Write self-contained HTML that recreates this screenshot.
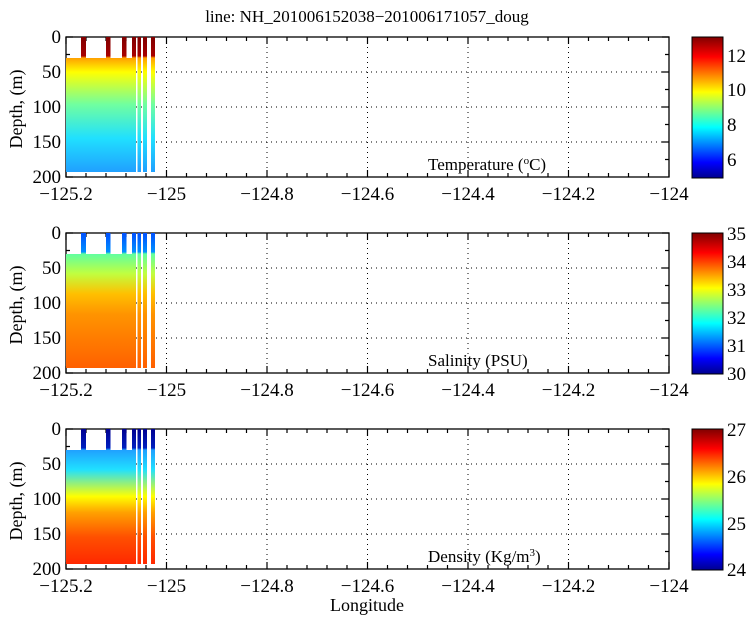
<!DOCTYPE html>
<html><head><style>body{margin:0;background:#fff}svg{display:block}text{font-family:"Liberation Serif",serif;fill:#000}</style></head><body>
<svg width="750" height="618" viewBox="0 0 750 618" xmlns="http://www.w3.org/2000/svg">
<defs>
<linearGradient id="jet" x1="0" y1="1" x2="0" y2="0">
<stop offset="0" stop-color="#00008f"/><stop offset="0.11" stop-color="#0000ff"/><stop offset="0.36" stop-color="#00ffff"/><stop offset="0.61" stop-color="#ffff00"/><stop offset="0.86" stop-color="#ff0000"/><stop offset="1" stop-color="#800000"/>
</linearGradient>
<linearGradient id="gT" gradientUnits="userSpaceOnUse" x1="0" y1="37" x2="0" y2="172">
<stop offset="0" stop-color="#800000"/><stop offset="0.14" stop-color="#a80000"/><stop offset="0.155" stop-color="#ffa000"/><stop offset="0.26" stop-color="#ffff00"/><stop offset="0.5" stop-color="#70ffa0"/><stop offset="0.75" stop-color="#20e0ff"/><stop offset="1" stop-color="#20a0ff"/>
</linearGradient>
<linearGradient id="gS" gradientUnits="userSpaceOnUse" x1="0" y1="233" x2="0" y2="368">
<stop offset="0" stop-color="#0050ff"/><stop offset="0.14" stop-color="#0090ff"/><stop offset="0.155" stop-color="#60ffa0"/><stop offset="0.3" stop-color="#c0ff40"/><stop offset="0.45" stop-color="#ffc000"/><stop offset="0.6" stop-color="#ff9400"/><stop offset="1" stop-color="#ff6000"/>
</linearGradient>
<linearGradient id="gD" gradientUnits="userSpaceOnUse" x1="0" y1="429" x2="0" y2="564">
<stop offset="0" stop-color="#000090"/><stop offset="0.14" stop-color="#0020c0"/><stop offset="0.155" stop-color="#20a0ff"/><stop offset="0.3" stop-color="#20e0ff"/><stop offset="0.5" stop-color="#ffff00"/><stop offset="0.62" stop-color="#ffa000"/><stop offset="0.8" stop-color="#ff5000"/><stop offset="1" stop-color="#ff2800"/>
</linearGradient>
<g id="axes">
<g stroke="#000" stroke-width="1" stroke-dasharray="1,4" fill="none">
<path d="M166.5 37V177M267 37V177M367.5 37V177M468 37V177M568.5 37V177M66 72H669M66 107H669M66 142H669"/>
</g>
<rect x="66" y="37" width="603" height="140" fill="none" stroke="#000" stroke-width="1.3"/>
<g stroke="#000" stroke-width="1.2">
<path d="M66 177v-7M166.5 177v-7M267 177v-7M367.5 177v-7M468 177v-7M568.5 177v-7M669 177v-7M66 37v7M166.5 37v7M267 37v7M367.5 37v7M468 37v7M568.5 37v7"/>
<path d="M86 177v-4M106 177v-4M126 177v-4M146 177v-4M186.5 177v-4M206.5 177v-4M226.5 177v-4M246.5 177v-4M287 177v-4M307 177v-4M327 177v-4M347 177v-4M387.5 177v-4M407.5 177v-4M427.5 177v-4M447.5 177v-4M488 177v-4M508 177v-4M528 177v-4M548 177v-4M588.5 177v-4M608.5 177v-4M628.5 177v-4M648.5 177v-4"/>
<path d="M86 37v4M106 37v4M126 37v4M146 37v4M186.5 37v4M206.5 37v4M226.5 37v4M246.5 37v4M287 37v4M307 37v4M327 37v4M347 37v4M387.5 37v4M407.5 37v4M427.5 37v4M447.5 37v4M488 37v4M508 37v4M528 37v4M548 37v4M588.5 37v4M608.5 37v4M628.5 37v4M648.5 37v4"/>
<path d="M66 37h7M66 72h7M66 107h7M66 142h7M66 177h7M669 37h-7M669 72h-7M669 107h-7M669 142h-7M669 54.5h-4M669 89.5h-4M669 124.5h-4M669 159.5h-4M66 54.5h4M66 89.5h4M66 124.5h4M66 159.5h4"/>
</g>
<g font-size="19" text-anchor="end">
<text x="61" y="43">0</text><text x="61" y="78">50</text><text x="61" y="113">100</text><text x="61" y="148">150</text><text x="61" y="183">200</text>
</g>
<g font-size="19" text-anchor="middle">
<text x="66" y="200">−125.2</text><text x="166.5" y="200">−125</text><text x="267" y="200">−124.8</text><text x="367.5" y="200">−124.6</text><text x="468" y="200">−124.4</text><text x="568.5" y="200">−124.2</text><text x="669" y="200">−124</text>
</g>
<text transform="translate(22,109) rotate(-90)" font-size="18" text-anchor="middle">Depth, (m)</text>
<rect x="692" y="37" width="31" height="141" fill="url(#jet)" stroke="#000" stroke-width="1"/>
</g>
</defs>

<text x="367" y="22" font-size="17" text-anchor="middle">line: NH_201006152038−201006171057_doug</text>

<use href="#axes"/>
<g fill="url(#gT)">
<rect x="66" y="58" width="70" height="114"/>
<rect x="81" y="37" width="5" height="22"/><rect x="106" y="37" width="4.5" height="22"/><rect x="122" y="37" width="4.5" height="22"/>
<rect x="132" y="37" width="4" height="135"/><rect x="137.5" y="37" width="3.5" height="135"/><rect x="143" y="37" width="4" height="135"/><rect x="151" y="37" width="4" height="135"/>
</g>
<g font-size="19"><text x="727" y="62">12</text><text x="727" y="96">10</text><text x="727" y="131">8</text><text x="727" y="166">6</text></g>
<text x="428" y="170" font-size="17">Temperature (<tspan font-size="11" dy="-6">o</tspan><tspan dy="6">C)</tspan></text>

<g transform="translate(0,196)"><use href="#axes"/></g>
<g fill="url(#gS)">
<rect x="66" y="254" width="70" height="114"/>
<rect x="81" y="233" width="5" height="22"/><rect x="106" y="233" width="4.5" height="22"/><rect x="122" y="233" width="4.5" height="22"/>
<rect x="132" y="233" width="4" height="135"/><rect x="137.5" y="233" width="3.5" height="135"/><rect x="143" y="233" width="4" height="135"/><rect x="151" y="233" width="4" height="135"/>
</g>
<g font-size="19"><text x="727" y="240">35</text><text x="727" y="268">34</text><text x="727" y="296">33</text><text x="727" y="324">32</text><text x="727" y="352">31</text><text x="727" y="380">30</text></g>
<text x="428" y="366" font-size="17">Salinity (PSU)</text>

<g transform="translate(0,392)"><use href="#axes"/></g>
<g fill="url(#gD)">
<rect x="66" y="450" width="70" height="114"/>
<rect x="81" y="429" width="5" height="22"/><rect x="106" y="429" width="4.5" height="22"/><rect x="122" y="429" width="4.5" height="22"/>
<rect x="132" y="429" width="4" height="135"/><rect x="137.5" y="429" width="3.5" height="135"/><rect x="143" y="429" width="4" height="135"/><rect x="151" y="429" width="4" height="135"/>
</g>
<g font-size="19"><text x="727" y="436">27</text><text x="727" y="483">26</text><text x="727" y="530">25</text><text x="727" y="576">24</text></g>
<text x="428" y="562" font-size="17">Density (Kg/m<tspan font-size="11" dy="-6">3</tspan><tspan dy="6">)</tspan></text>
<text x="367" y="611" font-size="18" text-anchor="middle">Longitude</text>
</svg>
</body></html>
